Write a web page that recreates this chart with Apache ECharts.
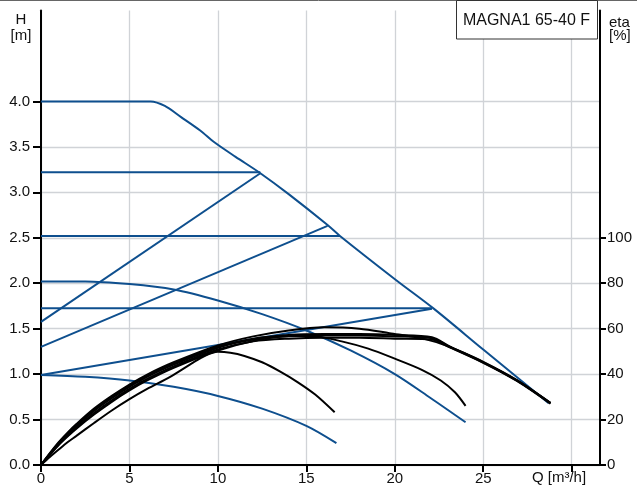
<!DOCTYPE html>
<html>
<head>
<meta charset="utf-8">
<script src="https://cdn.jsdelivr.net/npm/echarts@6/dist/echarts.min.js"></script>
<style>
html,body{margin:0;padding:0;background:#fff;}
#chart{width:637px;height:489px;}
</style>
</head>
<body>
<div id="chart"></div>
<script>
// ---- data (Q in m3/h, H in m, eta in %) ----
const pumpName = 'MAGNA1 65-40 F';
const qTicks = [0, 5, 10, 15, 20, 25, 30];
const qLabels = [0, 5, 10, 15, 20, 25];
const hTicks = [0, 0.5, 1.0, 1.5, 2.0, 2.5, 3.0, 3.5, 4.0];
const etaTicks = [0, 20, 40, 60, 80, 100];

// blue head curves
const maxCurve = [[0,4.0],[5,4.0],[6.2,4.0],[7.0,3.95],[7.9,3.83],[9.0,3.68],[9.8,3.55],[11.0,3.39],[12.4,3.21],[14.0,2.98],[16.2,2.64],[16.9,2.52],[20.1,2.03],[22.2,1.72],[25.0,1.27],[28.7,0.68]];
const constPress1 = [[0,3.22],[12.4,3.22]];
const constPress2 = [[0,2.52],[16.9,2.52]];
const constPress3 = [[0,1.725],[22.1,1.725]];
const propPress1 = [[0,1.575],[12.4,3.21]];
const propPress2 = [[0,1.30],[16.2,2.63]];
const propPress3 = [[0,0.99],[22.1,1.72]];
const speedCurve1 = [[0,2.02],[2.5,2.02],[5,1.99],[7.5,1.93],[10,1.81],[12.5,1.66],[15,1.48],[17.5,1.26],[20,1.00],[22,0.74],[24,0.47]];
const speedCurve2 = [[0,0.99],[2.5,0.97],[5,0.93],[7.5,0.86],[10,0.76],[12.5,0.62],[15,0.43],[16.7,0.24]];

// black efficiency curves (eta %)
const etaCurve1 = [[0,0],[0.5,3.5],[1,6.8],[1.5,10],[2,12.8],[3,18.5],[4,24],[5,29],[6,33.5],[7.3,38.8],[8.5,44.6],[9.3,48.2],[10,49.8],[10.7,49.4],[11.5,48],[12.5,45.2],[13.5,41.2],[14.5,36.5],[15.5,31],[16.6,23.2]];
const etaCurve2 = [[0,0],[0.5,4.5],[1,8.8],[1.5,12.5],[2,16],[3,22.2],[4,27.8],[5,32.8],[6,37.2],[7.5,42.8],[10,50.4],[12,54.6],[14,56.8],[15.5,56.6],[17,54.4],[18.5,51.2],[20,46.8],[21.5,42],[22.6,37.2],[23.4,32],[24,26]];
const etaCurve3 = [[0,0],[0.5,5.2],[1,10],[1.5,14.2],[2,18],[3,24.8],[4,30.4],[5,35.4],[6,39.8],[7.5,45.2],[10,52.6],[12,56.6],[14,59.2],[16,60.6],[18,60],[19.7,58],[21.6,55.6],[23.1,52],[25,45.2],[26.9,37.2],[28.8,27.2]];
const etaCurve4 = [[0,0],[0.5,4.9],[1,9.5],[1.5,13.5],[2,17.2],[3,23.8],[4,29.4],[5,34.4],[6,38.8],[7.5,44.2],[10,51.6],[12,55.2],[14,56.6],[16,57],[18,57],[20,56.6],[22.1,55.8],[23.1,52],[25,45.2],[26.9,37.2],[28.8,27.2]];
const etaCurve5 = [[0,0],[0.5,4.6],[1,9],[1.5,12.9],[2,16.5],[3,22.9],[4,28.5],[5,33.5],[6,37.9],[7.5,43.4],[10,50.8],[12,54.4],[14,55.6],[16,56],[18,56],[20,55.6],[22.1,55.2],[23.1,51.8],[25,45],[26.9,37],[28.8,27]];
const etaCurve6 = [[0,0],[0.5,5],[1,9.7],[1.5,13.8],[2,17.6],[3,24.3],[4,29.9],[5,34.9],[6,39.3],[7.5,44.7],[10,52],[12,55.6],[14,57.2],[16,57.6],[18,57.6],[20,57.2],[22.1,56.2],[23.1,52.2],[25,45.4],[26.9,37.4],[28.8,27.4]];

const BLUE = '#0e4f8e';
const BLACK = '#000';
const FONT = 'Liberation Sans, Arial, sans-serif';

const chart = echarts.init(document.getElementById('chart'), null, {renderer: 'canvas'});

function blueLine(data, smooth) {
  return {type: 'line', data: data, xAxisIndex: 0, yAxisIndex: 0, showSymbol: false, symbol: 'none',
    smooth: smooth ? 0.3 : false, silent: true,
    lineStyle: {color: BLUE, width: 2}, z: 3};
}
function etaLine(data) {
  return {type: 'line', data: data, xAxisIndex: 0, yAxisIndex: 1, showSymbol: false, symbol: 'none',
    smooth: 0.3, silent: true,
    lineStyle: {color: BLACK, width: 2}, z: 4};
}

const option = {
  animation: false,
  backgroundColor: '#fff',
  grid: {left: 41, right: 37, top: 10.5, bottom: 24, containLabel: false},
  xAxis: {
    type: 'value', min: 0, max: 31.6, interval: 5,
    axisLine: {show: true, onZero: false, lineStyle: {color: '#000', width: 2}},
    axisTick: {show: true, length: 7, customValues: qTicks, lineStyle: {color: '#000', width: 2}},
    axisLabel: {customValues: qLabels, margin: 6, fontSize: 15, fontFamily: FONT, color: '#111'},
    splitLine: {show: true, lineStyle: {color: '#d0d3d7', width: 1.3}}
  },
  yAxis: [{
    type: 'value', min: 0, max: 5, interval: 0.5, position: 'left',
    axisLine: {show: true, onZero: false, lineStyle: {color: '#000', width: 2}},
    axisTick: {show: true, length: 8, customValues: hTicks, lineStyle: {color: '#000', width: 2}},
    axisLabel: {customValues: hTicks, margin: 11, fontSize: 15, fontFamily: FONT, color: '#111',
      formatter: v => v.toFixed(1)},
    splitLine: {show: true, lineStyle: {color: '#d0d3d7', width: 1.3}}
  }, {
    type: 'value', min: 0, max: 200, interval: 20, position: 'right',
    axisLine: {show: true, onZero: false, lineStyle: {color: '#000', width: 2}},
    axisTick: {show: true, length: 6, customValues: etaTicks, lineStyle: {color: '#000', width: 2}},
    axisLabel: {customValues: etaTicks, margin: 7, fontSize: 15, fontFamily: FONT, color: '#111'},
    splitLine: {show: false}
  }],
  series: [
    blueLine(maxCurve, true),
    blueLine(constPress1, false),
    blueLine(constPress2, false),
    blueLine(constPress3, false),
    blueLine(propPress1, false),
    blueLine(propPress2, false),
    blueLine(propPress3, false),
    blueLine(speedCurve1, true),
    blueLine(speedCurve2, true),
    etaLine(etaCurve1),
    etaLine(etaCurve2),
    etaLine(etaCurve3),
    etaLine(etaCurve4),
    etaLine(etaCurve5),
    etaLine(etaCurve6)
  ],
  graphic: [
    {type: 'line', shape: {x1: 0, y1: 0.5, x2: 637, y2: 0.5}, style: {stroke: '#666', lineWidth: 1}, z: 10},
    {type: 'text', x: 21, y: 12, style: {text: 'H\n[m]', fill: '#111', font: '15px ' + FONT, textAlign: 'center', lineHeight: 16}},
    {type: 'text', x: 609, y: 16, style: {text: 'eta\n[%]', fill: '#111', font: '15px ' + FONT, textAlign: 'left', lineHeight: 13}},
    {type: 'text', x: 559, y: 470, style: {text: 'Q [m³/h]', fill: '#111', font: '15px ' + FONT, textAlign: 'center'}},
    {type: 'rect', shape: {x: 456.5, y: 0.5, width: 141, height: 38.5}, style: {fill: '#fff', stroke: '#333', lineWidth: 1}, z: 20},
    {type: 'text', x: 526.5, y: 20.5, style: {text: pumpName, fill: '#111', font: '16px ' + FONT, textAlign: 'center', textVerticalAlign: 'middle'}, z: 21}
  ]
};
chart.setOption(option);
</script>
</body>
</html>
